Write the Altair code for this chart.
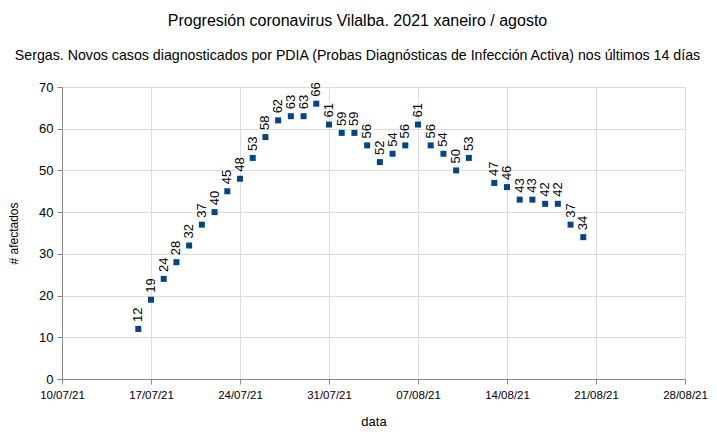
import altair as alt
import pandas as pd

dates = ["2021-07-16", "2021-07-17", "2021-07-18", "2021-07-19", "2021-07-20", "2021-07-21",
         "2021-07-22", "2021-07-23", "2021-07-24", "2021-07-25", "2021-07-26", "2021-07-27",
         "2021-07-28", "2021-07-29", "2021-07-30", "2021-07-31", "2021-08-01", "2021-08-02",
         "2021-08-03", "2021-08-04", "2021-08-05", "2021-08-06", "2021-08-07", "2021-08-08",
         "2021-08-09", "2021-08-10", "2021-08-11", "2021-08-13", "2021-08-14", "2021-08-15",
         "2021-08-16", "2021-08-17", "2021-08-18", "2021-08-19", "2021-08-20"]
values = [12, 19, 24, 28, 32, 37, 40, 45, 48, 53, 58, 62, 63, 63, 66, 61, 59, 59,
          56, 52, 54, 56, 61, 56, 54, 50, 53, 47, 46, 43, 43, 42, 42, 37, 34]
tick_dates = [(2021, 7, 10), (2021, 7, 17), (2021, 7, 24), (2021, 7, 31),
              (2021, 8, 7), (2021, 8, 14), (2021, 8, 21), (2021, 8, 28)]

df = pd.DataFrame({"data": dates, "afectados": values})

FONT = "Liberation Sans"
GRID = "#b3b3b3"
BLUE = "#004586"

def dt(t):
    return alt.DateTime(year=t[0], month=t[1], date=t[2], utc=True)

x = alt.X("data:T", title="data",
          scale=alt.Scale(type="utc", domain=[dt(tick_dates[0]), dt(tick_dates[-1])]),
          axis=alt.Axis(values=[dt(t) for t in tick_dates],
                        labelExpr="utcFormat(datum.value, '%d/%m/%y')",
                        labelFontSize=11.5, titleFontSize=13,
                        titleFontWeight="normal", titlePadding=15, labelPadding=5,
                        tickSize=5, labelFlush=False, labelOverlap=False))
y = alt.Y("afectados:Q", title="# afectados",
          scale=alt.Scale(domain=[0, 70], nice=False),
          axis=alt.Axis(values=list(range(0, 71, 10)), labelFontSize=13, titleFontSize=12,
                        titleFontWeight="normal", titlePadding=18, labelPadding=4, tickSize=5))

points = alt.Chart(df).mark_square(size=36, color=BLUE, opacity=1).encode(x=x, y=y)
labels = alt.Chart(df).mark_text(angle=270, align="left", baseline="middle", dx=7, dy=0,
                                 fontSize=13, font=FONT, color="#000000").encode(
    x=x, y=y, text="afectados:Q")

chart = (points + labels).properties(
    width=623, height=292,
    autosize=alt.AutoSizeParams(type="none"),
    padding={"left": 54, "top": 79, "right": 24, "bottom": 55},
    title=alt.TitleParams(
        "Progresión coronavirus Vilalba. 2021 xaneiro / agosto",
        subtitle="Sergas. Novos casos diagnosticados por PDIA (Probas Diagnósticas de Infección Activa) nos últimos 14 días",
        fontSize=16, subtitleFontSize=14.2, font=FONT, subtitleFont=FONT,
        fontWeight="normal", color="#000000", subtitleColor="#000000",
        anchor="middle", dx=-16, offset=18, subtitlePadding=20),
).configure_axis(
    labelFont=FONT, titleFont=FONT, labelColor="#000000", titleColor="#000000",
    gridColor=GRID, domainColor=GRID, tickColor=GRID, grid=True, gridOpacity=1,
).configure_view(stroke=GRID, strokeWidth=1).configure(background="white")

chart.save("out.html", embed_options={"renderer": "svg", "actions": False})
